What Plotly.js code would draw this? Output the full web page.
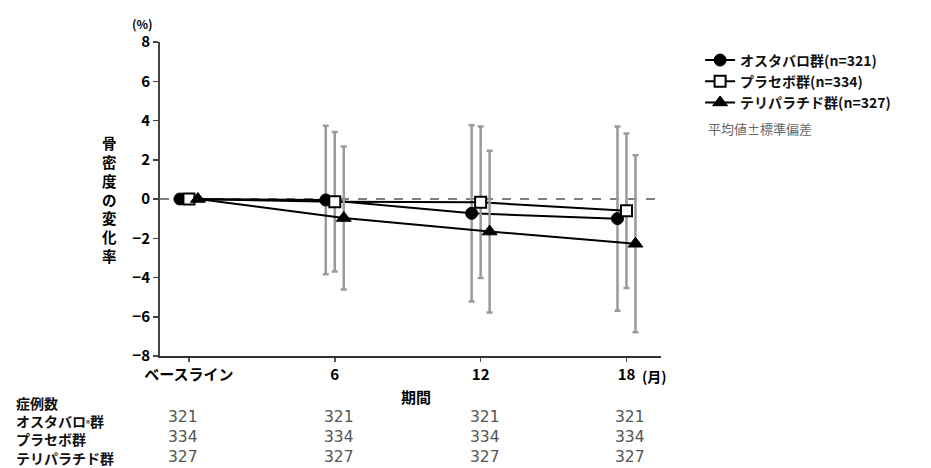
<!DOCTYPE html>
<html>
<head>
<meta charset="utf-8">
<script src="https://cdn.plot.ly/plotly-3.0.1.min.js"></script>
<style>html,body{margin:0;padding:0;background:#fff;}#chart{width:931px;height:468px;}</style>
</head>
<body>
<div id="chart"></div>
<script>
// ---- data ----
const months = [0, 6, 12, 18];
const tickLabels = ['ベースライン', '6', '12', '18'];
const seriesNames = ['オスタバロ群(n=321)', 'プラセボ群(n=334)', 'テリパラチド群(n=327)'];
const ostaMean = [0, -0.05, -0.73, -1.00];
const ostaSD = [0, 3.78, 4.49, 4.70];
const placeboMean = [0, -0.14, -0.17, -0.60];
const placeboSD = [0, 3.56, 3.86, 3.94];
const teriMean = [0, -0.97, -1.66, -2.28];
const teriSD = [0, 3.64, 4.12, 4.51];
const tableHeader = '症例数';
const tableGroups = ['オスタバロ<span style="font-size:8px">®</span>群', 'プラセボ群', 'テリパラチド群'];
const ostaN = [321, 321, 321, 321];
const placeboN = [334, 334, 334, 334];
const teriN = [327, 327, 327, 327];
const yTitle = '骨密度の変化率';

const JP = '"Noto Sans CJK JP", "Noto Sans", sans-serif';
const shift = 0.37;
const means = [ostaMean, placeboMean, teriMean];
const sds = [ostaSD, placeboSD, teriSD];
const offsets = [-shift, 0, shift];
const markers = [
  {symbol: 'circle', size: 12, color: '#000', line: {color: '#000', width: 1}},
  {symbol: 'square', size: 11, color: '#fff', line: {color: '#000', width: 2}},
  {symbol: 'triangle-up', size: 13, color: '#000', line: {color: '#000', width: 1}}
];

const traces = means.map((m, i) => ({
  type: 'scatter',
  mode: 'lines+markers',
  name: seriesNames[i],
  x: months.map(v => v + offsets[i]),
  y: m,
  line: {color: '#000', width: 2},
  marker: markers[i],
  error_y: {type: 'data', array: sds[i], visible: true, color: '#9a9a9a', thickness: 2.5, width: 3},
  cliponaxis: false
}));

const annotations = [];
// (%) label
annotations.push({xref: 'paper', yref: 'paper', x: -0.035, y: 1, yshift: 19, text: '(%)', showarrow: false,
  font: {family: JP, size: 12, color: '#000', weight: 'bold'}, xanchor: 'center', yanchor: 'middle'});
// vertical y title, one character per line
annotations.push({xref: 'paper', yref: 'paper', x: -0.1, y: 1, yshift: -(198.5 - 42),
  text: Array.from(yTitle).join('<br>'), showarrow: false,
  font: {family: JP, size: 14.5, color: '#000', weight: 'bold'},
  xanchor: 'center', yanchor: 'middle', align: 'center'});
// (月) unit
annotations.push({xref: 'x', yref: 'paper', x: 18, y: 0, xshift: 28, yshift: -20, text: '(月)', showarrow: false,
  font: {family: JP, size: 14, color: '#000', weight: 'bold'}, xanchor: 'center', yanchor: 'middle'});
// x title
annotations.push({xref: 'paper', yref: 'paper', x: 0.51, y: 0, yshift: -40, text: '期間', showarrow: false,
  font: {family: JP, size: 15, color: '#000', weight: 'bold'}, xanchor: 'center', yanchor: 'middle'});
// 平均値±標準偏差
annotations.push({xref: 'paper', yref: 'paper', x: 1, xshift: 45, y: 1, yshift: -86, text: '平均値±標準偏差', showarrow: false,
  font: {family: JP, size: 13, color: '#666'}, xanchor: 'left', yanchor: 'middle'});
// table: header + group labels in one block
annotations.push({xref: 'paper', yref: 'paper', x: 0, xshift: -146, y: 0, yshift: -(430.5 - 356),
  text: [tableHeader].concat(tableGroups).join('<br>'), showarrow: false, align: 'left',
  font: {family: JP, size: 14, color: '#111', weight: 'bold'}, xanchor: 'left', yanchor: 'middle'});
// table: one block of counts per column
const counts = [ostaN, placeboN, teriN];
months.forEach((mth, c) => {
  annotations.push({xref: 'x', yref: 'paper', x: mth, xshift: c === 0 ? -6 : 4, y: 0, yshift: -(437 - 356),
    text: counts.map(row => String(row[c])).join('<br>'), showarrow: false, align: 'center',
    font: {family: '"DejaVu Sans", sans-serif', size: 15.5, color: '#555'},
    xanchor: 'center', yanchor: 'middle'});
});

const layout = {
  width: 931, height: 468,
  margin: {l: 160, r: 270, t: 42, b: 112},
  paper_bgcolor: '#fff', plot_bgcolor: '#fff',
  showlegend: true,
  legend: {xref: 'container', yref: 'container', x: 0.752, y: 0.905, xanchor: 'left', yanchor: 'top',
    font: {family: JP, size: 14, color: '#111', weight: 'bold'}, bgcolor: 'rgba(0,0,0,0)', borderwidth: 0,
    tracegroupgap: 0},
  xaxis: {
    range: [-1.19, 19.42], tickmode: 'array', tickvals: months, ticktext: tickLabels,
    showgrid: false, zeroline: false, showline: true, linecolor: '#333', linewidth: 2,
    ticks: 'outside', ticklen: 4, tickwidth: 1.5, tickcolor: '#555',
    tickfont: {family: JP, size: 15, color: '#000', weight: 'bold'}
  },
  yaxis: {
    range: [-8, 8], tickmode: 'array', tickvals: [-8, -6, -4, -2, 0, 2, 4, 6, 8],
    showgrid: false, zeroline: false, showline: true, linecolor: '#444', linewidth: 2,
    ticks: 'outside', ticklen: 5, tickwidth: 1.5, tickcolor: '#444',
    tickfont: {family: JP, size: 15, color: '#000', weight: 'bold'}
  },
  shapes: [{type: 'line', xref: 'paper', yref: 'y', x0: 0, x1: 1, y0: 0, y1: 0,
    line: {color: '#555', width: 1.5, dash: 'dash'}, layer: 'below'}],
  annotations: annotations
};

Plotly.newPlot('chart', traces, layout, {displayModeBar: false, staticPlot: true});
</script>
</body>
</html>
